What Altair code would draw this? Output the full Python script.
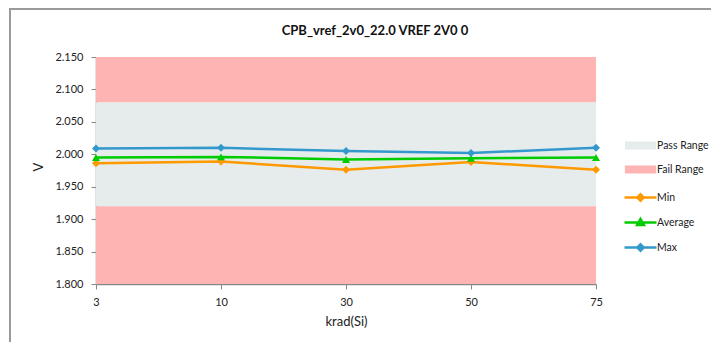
import altair as alt
import pandas as pd

# ---- data ----
categories = ["3", "10", "30", "50", "75"]
min_vals = [1.986, 1.989, 1.976, 1.988, 1.976]
avg_vals = [1.995, 1.996, 1.992, 1.994, 1.995]
max_vals = [2.009, 2.010, 2.005, 2.002, 2.010]
series_names = ["Min", "Average", "Max"]
series_colors = ["#FF9900", "#00CC00", "#3399CC"]
series_shapes = ["diamond", "triangle-up", "diamond"]
range_names = ["Pass Range", "Fail Range"]
range_colors = ["#E6ECEC", "#FFB4B4"]
band_labels = ["Fail Range", "Pass Range", "Fail Range"]
band_lo = [2.080, 1.920, 1.800]
band_hi = [2.150, 2.080, 1.920]
y_ticks = [1.80, 1.85, 1.90, 1.95, 2.00, 2.05, 2.10, 2.15]

rows = []
for name, vals in zip(series_names, [min_vals, avg_vals, max_vals]):
    for i, (c, v) in enumerate(zip(categories, vals)):
        rows.append({"krad": c, "idx": i, "value": v, "series": name})
df = pd.DataFrame(rows)
bands = pd.DataFrame({"range": band_labels, "lo": band_lo, "hi": band_hi})

FONT = "Lato"
W, H = 500, 227
PAD_L, PAD_T = 88, 49
PAD_R, PAD_B = 703 - PAD_L - W, 334 - PAD_T - H

y_scale = alt.Scale(domain=[1.8, 2.15], zero=False, nice=False)
y_axis = alt.Axis(title="V", values=y_ticks, format=".3f", grid=False,
                  tickSize=5, labelPadding=8, titleX=-51, titleY=H / 2 - 4,
                  titleFontSize=13, titleFontWeight="normal")
x_enc = alt.X("krad:N", sort=categories,
              scale=alt.Scale(type="point", padding=0, domain=categories),
              axis=alt.Axis(title="krad(Si)", labelAngle=0, tickSize=5,
                            labelPadding=7, titlePadding=8, titleFontSize=13,
                            titleFontWeight="normal"))
y_enc = alt.Y("value:Q", scale=y_scale, axis=y_axis)

legend_paths = [
    "M-4,0H4M0,-0.8L0.8,0L0,0.8L-0.8,0Z",
    "M-4,0H4M0,-0.85L0.85,0.65H-0.85Z",
    "M-4,0H4M0,-0.8L0.8,0L0,0.8L-0.8,0Z",
]
range_path = "M-3.9,-1H3.9V1H-3.9Z"

LEG_X = 539
legend_common = dict(orient="none", title=None, labelFont=FONT, labelFontSize=10.5,
                     labelColor="#222222", padding=0,
                     symbolStrokeWidth=2.5, labelOffset=11)

bands_layer = alt.Chart(bands).mark_rect().encode(
    x=alt.value(0), x2=alt.value("width"),
    y=alt.Y("lo:Q", scale=y_scale, axis=y_axis),
    y2="hi:Q",
    fill=alt.Fill("range:N", scale=alt.Scale(domain=range_names, range=range_colors),
                  legend=alt.Legend(symbolType=range_path, symbolSize=64, rowPadding=13,
                                    legendX=LEG_X, legendY=83, **legend_common)),
)

layers = [bands_layer]
for name, col, shp in zip(series_names, series_colors, series_shapes):
    sub = alt.Chart(df).transform_filter(alt.datum.series == name)
    layers.append(sub.mark_line(strokeWidth=2.5, color=col).encode(
        x=x_enc, y=y_enc, order="idx:Q"))
for name, col, shp in zip(series_names, series_colors, series_shapes):
    sub = alt.Chart(df).transform_filter(alt.datum.series == name)
    layers.append(sub.mark_point(filled=True, size=64, opacity=1, shape=shp, color=col).encode(
        x=x_enc, y=y_enc))

series_legend = alt.Legend(legendX=LEG_X, legendY=135, symbolSize=64, rowPadding=8,
                           **legend_common)
legend_layer = alt.Chart(df).transform_filter("datum.value > 100").mark_point(
    filled=True, size=64, opacity=1, strokeWidth=2.5).encode(
    x=x_enc, y=y_enc,
    color=alt.Color("series:N", scale=alt.Scale(domain=series_names, range=series_colors),
                    legend=series_legend),
    stroke=alt.Stroke("series:N", scale=alt.Scale(domain=series_names, range=series_colors),
                      legend=series_legend),
    shape=alt.Shape("series:N", scale=alt.Scale(domain=series_names, range=legend_paths),
                    legend=series_legend),
)
layers.append(legend_layer)

one = pd.DataFrame({"k": [0]})
layers.append(alt.Chart(one).mark_rule(color="#9a9a9a", strokeWidth=2).encode(
    x=alt.value(-86), x2=alt.value(W + PAD_R), y=alt.value(-48)))
layers.append(alt.Chart(one).mark_rule(color="#9a9a9a", strokeWidth=2).encode(
    x=alt.value(-86), y=alt.value(-49), y2=alt.value(H + PAD_B)))

chart = alt.layer(*layers).properties(
    width=W, height=H,
    autosize=alt.AutoSizeParams(type="none"),
    padding={"left": PAD_L, "top": PAD_T, "right": PAD_R, "bottom": PAD_B},
    title=alt.Title("CPB_vref_2v0_22.0 VREF 2V0 0", font=FONT, fontSize=13,
                    fontWeight="bold", anchor="middle", frame="group", dx=29,
                    offset=-31, color="#111111"),
    background="white",
).configure_view(stroke=None).configure_axis(
    labelFont=FONT, titleFont=FONT, labelFontSize=11, labelColor="#222222",
    titleColor="#222222", domainColor="#888888", tickColor="#888888", domainWidth=1.5,
)

chart.save("out.html", embed_options={"renderer": "svg", "actions": False})
